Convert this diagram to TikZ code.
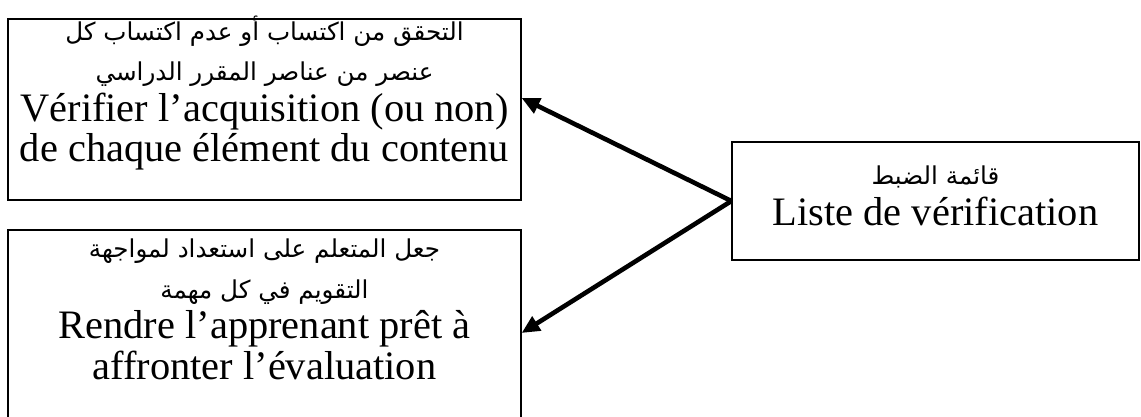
\documentclass[tikz,border=0pt]{standalone}
\usepackage{fontspec}
\setmainfont{Liberation Serif}
\newfontfamily\arabicfont[Script=Arabic]{DejaVu Sans}
\TeXXeTstate=1
\usetikzlibrary{arrows.meta}
\newcommand{\ar}[1]{{\arabicfont\fontsize{12.3}{20.25}\selectfont\beginR #1\endR}}
\newcommand{\boxfont}{\fontsize{20.2}{20.25}\selectfont\lineskiplimit=-100pt\relax}

\begin{document}
\begin{tikzpicture}[x=0.5pt, y=-0.5pt,
  box/.style={draw, line width=0.6pt, inner sep=0pt},
  txt/.style={align=center, anchor=base, inner sep=0pt, font=\boxfont},
  link/.style={-{Triangle[length=9pt,width=8pt]}, line width=2.3pt}]
\useasboundingbox (0,0) rectangle (1141,417);

\node (acquis) [box, minimum width=256.5pt, minimum height=90.5pt] at (264.5,109.5) {};
\node (pret) [box, minimum width=256.5pt, minimum height=105pt] at (264.5,335) {};
\node (liste) [box, minimum width=203.5pt, minimum height=59pt] at (935.5,201) {};

\node (acquistext) [txt] at (264.5,162) {\ar{التحقق من اكتساب أو عدم اكتساب كل}\\ \ar{عنصر من عناصر المقرر الدراسي}\\ Vérifier l’acquisition (ou non)\\ de chaque élément du contenu};
\node (prettext) [txt] at (264.5,379) {\ar{جعل المتعلم على استعداد لمواجهة}\\ \ar{التقويم في كل مهمة}\\ Rendre l’apprenant prêt à\\ affronter l’évaluation};
\node (listetext) [txt] at (935.5,225) {\ar{قائمة الضبط}\\ Liste de vérification};

\draw [link] (liste.west) -- ([yshift=5.75pt]acquis.east);
\draw [link] (liste.west) -- ([yshift=1pt]pret.east);

\end{tikzpicture}
\end{document}
